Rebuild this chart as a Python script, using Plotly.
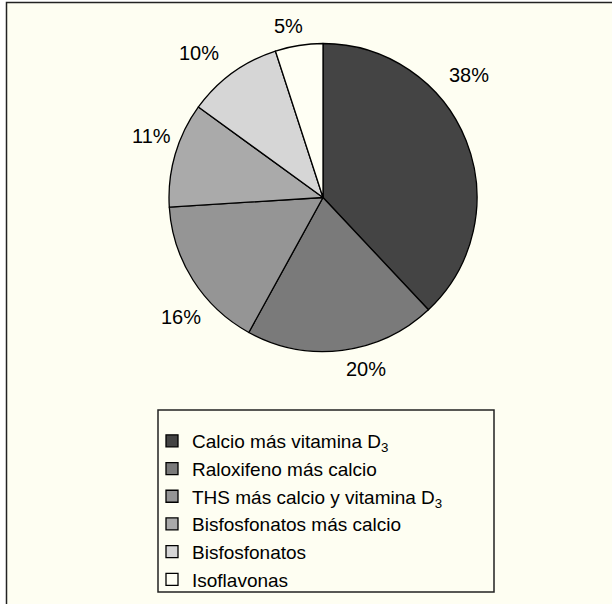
import math
import plotly.graph_objects as go

# ---- data ----
labels = [
    "Calcio más vitamina D<sub>3</sub>",
    "Raloxifeno más calcio",
    "THS más calcio y vitamina D<sub>3</sub>",
    "Bisfosfonatos más calcio",
    "Bisfosfonatos",
    "Isoflavonas",
]
values = [38, 20, 16, 11, 10, 5]

# ---- styling / layout ----
colors = ["#444444", "#7a7a7a", "#959595", "#aaaaaa", "#d6d6d6", "#fffff4"]
label_angle_shift = [-18.4, -7.0, -7.6, 3.5, -4.7, -2.5]   # deg, label placement tweak
label_dist = [191, 177, 186, 182, 190, 175]                # px from pie centre

W, H = 612, 604
BG = "#fefef2"
FONT = "Liberation Sans, Arial, Helvetica, sans-serif"


def px_x(x):
    return x / W


def px_y(y):
    return 1 - y / H


cx, cy, r = 323, 197.5, 154

fig = go.Figure(
    go.Pie(
        labels=labels,
        values=values,
        sort=False,
        direction="clockwise",
        rotation=0,
        marker=dict(colors=colors, line=dict(color="#000000", width=1.3)),
        textinfo="none",
        domain=dict(x=[px_x(cx - r), px_x(cx + r)], y=[px_y(cy + r), px_y(cy - r)]),
        showlegend=True,
        hoverinfo="label+percent",
    )
)

# percentage labels placed around the pie from the data's cumulative angles
total = sum(values)
annotations = []
cum = 0
for i, v in enumerate(values):
    mid = (cum + v / 2) / total * 360.0 + label_angle_shift[i]
    cum += v
    a = math.radians(mid)
    lx = cx + label_dist[i] * math.sin(a)
    ly = cy - label_dist[i] * math.cos(a)
    annotations.append(
        dict(
            x=px_x(lx), y=px_y(ly), xref="paper", yref="paper",
            text=f"{v}%", showarrow=False,
            xanchor="center", yanchor="middle",
            font=dict(family=FONT, size=20, color="#000000"),
        )
    )

fig.update_layout(
    width=W,
    height=H,
    margin=dict(l=0, r=0, t=0, b=0),
    paper_bgcolor="#ffffff",
    plot_bgcolor="#ffffff",
    font=dict(family=FONT, size=19, color="#000000"),
    annotations=annotations,
    legend=dict(
        x=px_x(152),
        y=px_y(422),
        xanchor="left",
        yanchor="top",
        bgcolor="rgba(0,0,0,0)",
        borderwidth=0,
        font=dict(family=FONT, size=19, color="#000000"),
        traceorder="normal",
        tracegroupgap=0,
    ),
    shapes=[
        dict(
            type="rect", xref="paper", yref="paper",
            x0=px_x(6.5), x1=px_x(640), y0=px_y(640), y1=px_y(2.5),
            fillcolor=BG, line=dict(color="#222222", width=1.5), layer="below",
        ),
        dict(
            type="rect", xref="paper", yref="paper",
            x0=px_x(158), x1=px_x(494), y0=px_y(592), y1=px_y(410),
            fillcolor="rgba(0,0,0,0)", line=dict(color="#222222", width=1.5), layer="below",
        ),
    ],
)

fig.write_html(
    "out.html",
    config={"displayModeBar": False},
    post_script="document.body.style.margin='0';",
)
